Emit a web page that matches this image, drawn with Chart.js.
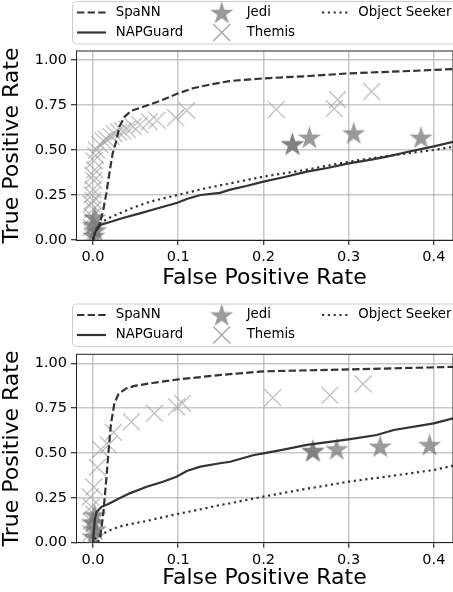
<!DOCTYPE html>
<html>
<head>
<meta charset="utf-8">
<script src="https://cdn.jsdelivr.net/npm/chart.js@4"></script>
<style>
  body { margin: 0; background: #fff; }
  canvas { position: absolute; left: 0; }
  #rocTop { top: 0; }
  #rocBottom { top: 296px; }
</style>
</head>
<body>
<canvas id="rocTop" width="453" height="296"></canvas>
<canvas id="rocBottom" width="453" height="296"></canvas>
<script>
// ticks
const xTicks = [0, 0.1, 0.2, 0.3, 0.4];
const yTicks = [0, 0.25, 0.5, 0.75, 1.0];

// top panel
const topSpannFpr = [0, 0.002, 0.005, 0.008, 0.012, 0.0156, 0.0195, 0.023, 0.027, 0.031, 0.037, 0.045, 0.059, 0.078, 0.1, 0.117, 0.14, 0.16, 0.2, 0.254, 0.301, 0.372, 0.423];
const topSpannTpr = [0, 0.037, 0.06, 0.093, 0.167, 0.26, 0.38, 0.48, 0.546, 0.63, 0.685, 0.718, 0.74, 0.772, 0.815, 0.843, 0.866, 0.883, 0.898, 0.911, 0.926, 0.939, 0.95];
const topNapFpr = [0, 0.003, 0.0086, 0.02, 0.035, 0.055, 0.075, 0.099, 0.11, 0.126, 0.149, 0.161, 0.18, 0.2, 0.225, 0.251, 0.275, 0.3, 0.325, 0.345, 0.37, 0.4, 0.423];
const topNapTpr = [0, 0.05, 0.083, 0.1, 0.122, 0.148, 0.175, 0.207, 0.228, 0.25, 0.262, 0.28, 0.3, 0.324, 0.35, 0.38, 0.4, 0.426, 0.445, 0.463, 0.49, 0.52, 0.546];
const topSeekerFpr = [0, 0.003, 0.0086, 0.02, 0.032, 0.05, 0.067, 0.099, 0.13, 0.161, 0.2, 0.25, 0.3, 0.35, 0.4, 0.423];
const topSeekerTpr = [0, 0.06, 0.094, 0.125, 0.15, 0.185, 0.213, 0.25, 0.285, 0.315, 0.352, 0.39, 0.435, 0.47, 0.5, 0.518];
const topJediFpr = [0.001, 0.003, 0.0, 0.002, 0.234, 0.234, 0.254, 0.306, 0.385];
const topJediTpr = [0.02, 0.05, 0.08, 0.12, 0.528, 0.528, 0.565, 0.589, 0.565];
const topThemisFpr = [-0.001, 0, -0.002, 0, -0.001, 0, -0.002, 0, -0.001, 0, 0.001, 0, 0.002, 0.001, 0.003, 0.004, 0.008, 0.012, 0.016, 0.021, 0.025, 0.03, 0.035, 0.04, 0.047, 0.055, 0.066, 0.075, 0.097, 0.11, 0.215, 0.283, 0.287, 0.327];
const topThemisTpr = [0.02, 0.04, 0.07, 0.1, 0.13, 0.17, 0.2, 0.22, 0.25, 0.28, 0.33, 0.36, 0.39, 0.44, 0.47, 0.5, 0.53, 0.55, 0.56, 0.575, 0.59, 0.6, 0.605, 0.615, 0.63, 0.64, 0.657, 0.665, 0.68, 0.72, 0.725, 0.73, 0.78, 0.825];

// bottom panel
const botSpannFpr = [0, 0.005, 0.008, 0.012, 0.0155, 0.018, 0.021, 0.025, 0.03, 0.039, 0.05, 0.07, 0.1, 0.15, 0.2, 0.3, 0.423];
const botSpannTpr = [0, 0, 0.02, 0.16, 0.35, 0.5, 0.66, 0.775, 0.83, 0.86, 0.875, 0.89, 0.91, 0.935, 0.955, 0.966, 0.98];
const botNapFpr = [0, 0.002, 0.004, 0.01, 0.018, 0.027, 0.043, 0.063, 0.082, 0.098, 0.11, 0.126, 0.149, 0.161, 0.189, 0.2, 0.225, 0.251, 0.3, 0.333, 0.353, 0.4, 0.423];
const botNapTpr = [0, 0.126, 0.17, 0.2, 0.216, 0.238, 0.275, 0.312, 0.34, 0.368, 0.4, 0.424, 0.443, 0.451, 0.489, 0.498, 0.52, 0.545, 0.576, 0.6, 0.628, 0.665, 0.693];
const botSeekerFpr = [0.002, 0.004, 0.009, 0.02, 0.031, 0.048, 0.059, 0.08, 0.099, 0.125, 0.149, 0.161, 0.2, 0.25, 0.3, 0.35, 0.4, 0.423];
const botSeekerTpr = [0.02, 0.033, 0.045, 0.07, 0.09, 0.108, 0.117, 0.14, 0.16, 0.185, 0.21, 0.22, 0.257, 0.3, 0.34, 0.372, 0.405, 0.43];
const botJediFpr = [0, 0.003, -0.001, 0.002, 0.258, 0.258, 0.286, 0.337, 0.395];
const botJediTpr = [0.03, 0.07, 0.11, 0.15, 0.507, 0.507, 0.517, 0.532, 0.541];
const botThemisFpr = [-0.003, 0, -0.002, 0.001, -0.002, -0.003, 0.001, 0.005, 0.009, 0.018, 0.024, 0.045, 0.072, 0.098, 0.105, 0.211, 0.278, 0.317];
const botThemisTpr = [0.05, 0.08, 0.12, 0.16, 0.2, 0.255, 0.31, 0.42, 0.52, 0.545, 0.615, 0.674, 0.721, 0.758, 0.777, 0.808, 0.822, 0.884];

const FONT = '"DejaVu Sans", sans-serif';
const LINE = '#333333';
const STAR = 'rgba(120,120,120,0.75)';
const CROSS = 'rgba(160,160,160,0.6)';

function pts(xs, ys) {
  return xs.map((x, i) => ({ x: x, y: ys[i] }));
}

function makeStar(r, color) {
  const c = document.createElement('canvas');
  const s = Math.ceil(2 * r + 2);
  c.width = s; c.height = s;
  const g = c.getContext('2d');
  g.fillStyle = color;
  g.beginPath();
  for (let i = 0; i < 10; i++) {
    const rad = i % 2 === 0 ? r : r * 0.38;
    const a = -Math.PI / 2 + i * Math.PI / 5;
    g.lineTo(s / 2 + rad * Math.cos(a), s / 2 + rad * Math.sin(a));
  }
  g.closePath();
  g.fill();
  return c;
}
const starImg = makeStar(12.3, STAR);

// frame + matplotlib style legend
const panelDeco = {
  id: 'panelDeco',
  afterDraw(chart, args, opts) {
    const ctx = chart.ctx;
    const a = chart.chartArea;
    ctx.save();
    ctx.strokeStyle = '#222';
    ctx.lineWidth = 1;
    ctx.beginPath();
    ctx.moveTo(a.left, a.top);
    ctx.lineTo(a.right, a.top);
    ctx.lineTo(a.right, a.bottom);
    ctx.stroke();

    const top = opts.boxTop;
    const r1 = top + 11, r2 = top + 31;
    ctx.fillStyle = 'rgba(255,255,255,0.8)';
    ctx.strokeStyle = '#cccccc';
    ctx.beginPath();
    ctx.roundRect(72.5, top, 384, 42.5, 4);
    ctx.fill();
    ctx.stroke();

    ctx.strokeStyle = LINE;
    ctx.lineWidth = 2.2;
    const handle = (x0, x1, y, dash) => {
      ctx.setLineDash(dash);
      ctx.beginPath();
      ctx.moveTo(x0, y);
      ctx.lineTo(x1, y);
      ctx.stroke();
    };
    handle(77, 106, r1, [7.4, 3.2]);
    handle(77, 106, r2, []);
    handle(322, 348, r1, [2.2, 3.6]);
    ctx.setLineDash([]);

    ctx.drawImage(starImg, 221.7 - starImg.width / 2, r1 - starImg.height / 2 + 1);
    ctx.strokeStyle = 'rgba(140,140,140,0.75)';
    ctx.lineWidth = 1.5;
    ctx.beginPath();
    ctx.moveTo(221.7 - 8.5, r2 - 8.5); ctx.lineTo(221.7 + 8.5, r2 + 8.5);
    ctx.moveTo(221.7 - 8.5, r2 + 8.5); ctx.lineTo(221.7 + 8.5, r2 - 8.5);
    ctx.stroke();

    ctx.fillStyle = '#000';
    ctx.font = '13.3px ' + FONT;
    ctx.textBaseline = 'middle';
    ctx.fillText('SpaNN', 115.7, r1);
    ctx.fillText('NAPGuard', 115.7, r2);
    ctx.fillText('Jedi', 246.7, r1);
    ctx.fillText('Themis', 246.7, r2);
    ctx.fillText('Object Seeker', 358.3, r1);
    ctx.restore();
  }
};

function buildPanel(canvasId, d, lay) {
  const data = {
    datasets: [
      {
        label: 'SpaNN', data: pts(d.spannFpr, d.spannTpr), showLine: true,
        borderColor: LINE, borderWidth: 2.2, borderDash: [7.4, 3.2], pointRadius: 0, order: 0,
      },
      {
        label: 'NAPGuard', data: pts(d.napFpr, d.napTpr), showLine: true,
        borderColor: LINE, borderWidth: 2.2, pointRadius: 0, order: 0,
      },
      {
        label: 'Jedi', data: pts(d.jediFpr, d.jediTpr), showLine: false,
        pointStyle: starImg, pointRadius: 12, order: 1,
      },
      {
        label: 'Themis', data: pts(d.themisFpr, d.themisTpr), showLine: false,
        pointStyle: 'crossRot', pointRadius: 12, pointBorderColor: CROSS, pointBorderWidth: 1.5, order: 2,
      },
      {
        label: 'Object Seeker', data: pts(d.seekerFpr, d.seekerTpr), showLine: true,
        borderColor: LINE, borderWidth: 2.2, borderDash: [2.2, 3.6], pointRadius: 0, order: 0,
      },
    ],
  };

  const gridOpts = { color: 'rgba(176,176,176,0.7)', lineWidth: 1.5, tickColor: '#000', tickLength: 5, tickWidth: 1 };

  const config = {
    type: 'scatter',
    data,
    options: {
      responsive: false,
      animation: false,
      devicePixelRatio: 1,
      layout: { autoPadding: false, padding: { top: lay.top, left: 0, right: 0, bottom: 0 } },
      scales: {
        x: {
          type: 'linear', min: -0.02, max: 0.4225,
          afterBuildTicks: s => { s.ticks = xTicks.map(v => ({ value: v })); },
          afterFit: s => { s.height = lay.xHeight; s.paddingLeft = 0; s.paddingRight = 0; },
          ticks: { callback: v => v.toFixed(1), color: '#000', font: { family: FONT, size: 14.5 }, padding: 4, maxRotation: 0, autoSkip: false },
          grid: gridOpts,
          border: { color: '#222', width: 1 },
          title: { display: true, text: 'False Positive Rate', color: '#000', font: { family: FONT, size: 22 }, padding: { top: 0, bottom: lay.titlePad } },
        },
        y: {
          type: 'linear', min: 0, max: 1.05,
          afterBuildTicks: s => { s.ticks = yTicks.map(v => ({ value: v })); },
          afterFit: s => { s.width = 76; s.paddingTop = 0; s.paddingBottom = 0; },
          ticks: { callback: v => v.toFixed(2), color: '#000', font: { family: FONT, size: 14.5 }, padding: 4 },
          grid: gridOpts,
          border: { color: '#222', width: 1 },
          title: { display: true, text: 'True Positive Rate', color: '#000', font: { family: FONT, size: 22 }, padding: { top: -1, bottom: 0 } },
        },
      },
      plugins: {
        legend: { display: false },
        tooltip: { enabled: false },
        panelDeco: { boxTop: lay.boxTop },
      },
    },
    plugins: [panelDeco],
  };

  return new Chart(document.getElementById(canvasId), config);
}

buildPanel('rocTop', {
  spannFpr: topSpannFpr, spannTpr: topSpannTpr,
  napFpr: topNapFpr, napTpr: topNapTpr,
  seekerFpr: topSeekerFpr, seekerTpr: topSeekerTpr,
  jediFpr: topJediFpr, jediTpr: topJediTpr,
  themisFpr: topThemisFpr, themisTpr: topThemisTpr,
}, { top: 51, xHeight: 56, titlePad: 4.8, boxTop: 1.5 });

buildPanel('rocBottom', {
  spannFpr: botSpannFpr, spannTpr: botSpannTpr,
  napFpr: botNapFpr, napTpr: botNapTpr,
  seekerFpr: botSeekerFpr, seekerTpr: botSeekerTpr,
  jediFpr: botJediFpr, jediTpr: botJediTpr,
  themisFpr: botThemisFpr, themisTpr: botThemisTpr,
}, { top: 58.3, xHeight: 49.3, titlePad: 1, boxTop: 8 });
</script>
</body>
</html>
